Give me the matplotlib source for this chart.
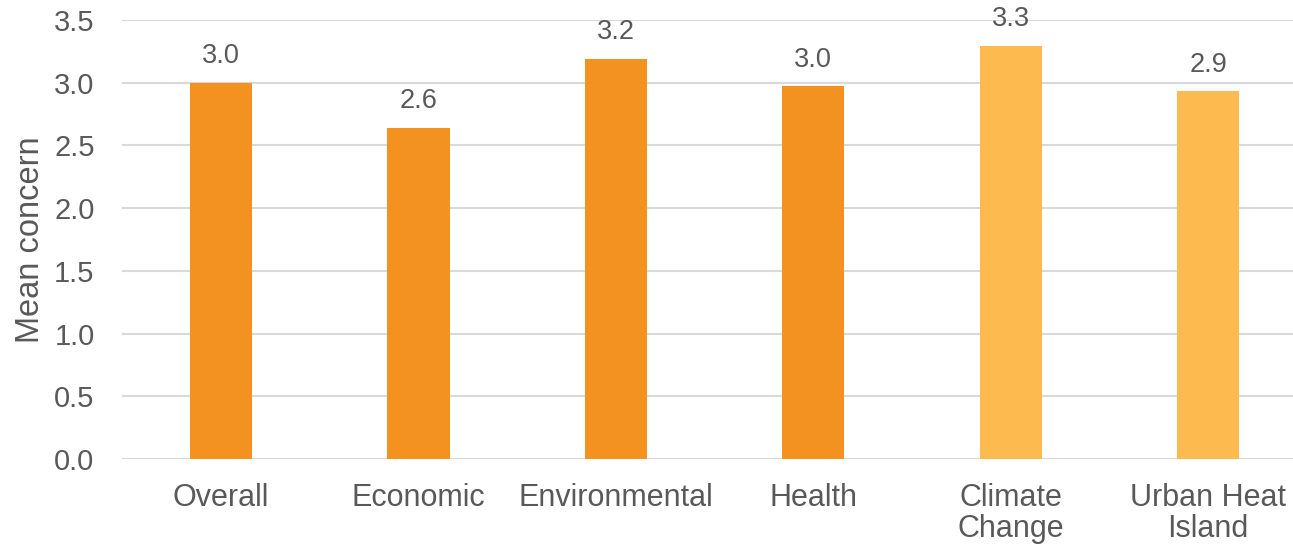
import matplotlib.pyplot as plt

# Mean concern by category
categories = ['Overall', 'Economic', 'Environmental', 'Health', 'Climate\nChange', 'Urban Heat\nIsland']
mean_concern = [3.00, 2.64, 3.19, 2.97, 3.29, 2.93]
bar_colors = ['#F39220', '#F39220', '#F39220', '#F39220', '#FDBB4F', '#FDBB4F']
y_ticks = [0.0, 0.5, 1.0, 1.5, 2.0, 2.5, 3.0, 3.5]

plt.rcParams['font.family'] = ['Liberation Sans', 'DejaVu Sans']
text_color = '#595959'
grid_color = '#D9D9D9'

fig = plt.figure(figsize=(12.93, 5.46), dpi=100)
# axes run a little past the right edge of the figure
ax = fig.add_axes([0.0946, 0.1593, 0.916, 0.8041])

x = list(range(len(categories)))
bars = ax.bar(x, mean_concern, width=0.315, color=bar_colors, zorder=3)

for rect, val in zip(bars, mean_concern):
    ax.annotate(f'{val:.1f}', (rect.get_x() + rect.get_width() / 2, val),
                xytext=(0, 10), textcoords='offset points',
                ha='center', va='bottom', fontsize=19.5, color=text_color)

ax.set_xlim(-0.5, len(categories) - 0.5)
ax.set_ylim(0, 3.5)
ax.set_yticks(y_ticks)
ax.set_yticklabels([f'{t:.1f}' for t in y_ticks])
ax.set_xticks(x)
ax.set_xticklabels(categories, linespacing=1.05)

ax.tick_params(axis='y', length=0, pad=20, labelsize=21, labelcolor=text_color)
ax.tick_params(axis='x', length=0, pad=17, labelsize=22, labelcolor=text_color)
ax.set_ylabel('Mean concern', fontsize=23.5, color=text_color, labelpad=6)

ax.grid(axis='y', color=grid_color, linewidth=1.5, zorder=0)
for side in ['top', 'right', 'left', 'bottom']:
    ax.spines[side].set_visible(False)

fig.savefig('out.png', dpi=100)
